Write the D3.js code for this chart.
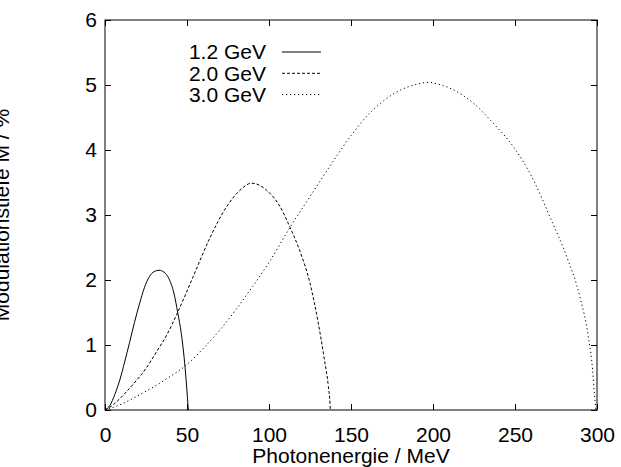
<!DOCTYPE html>
<html>
<head>
<meta charset="utf-8">
<script src="https://cdn.jsdelivr.net/npm/d3@7"></script>
<style>
  body { margin: 0; background: #fff; }
  text { font-family: "Liberation Sans", Arial, Helvetica, sans-serif; }
</style>
</head>
<body>
<div id="chart"></div>
<script>
// Data: [photon energy (MeV), modulation depth (%)]
const gev12 = [
  [0, 0], [3, 0.07], [6, 0.24], [9, 0.46], [12, 0.74], [15, 1.04], [18, 1.35],
  [21, 1.63], [24, 1.88], [27, 2.05], [30, 2.13], [33, 2.15], [36, 2.12],
  [39, 2.02], [42, 1.80], [44.4, 1.49], [46.5, 1.18], [48.2, 0.82],
  [49.5, 0.45], [50.3, 0.18], [50.8, 0]
];
const gev20 = [
  [0, 0], [5, 0.08], [10, 0.2], [17.3, 0.4], [25, 0.64], [31.5, 0.9], [38, 1.17],
  [44.1, 1.49], [53.9, 2.06], [64, 2.65], [74.2, 3.13], [82.3, 3.38],
  [89.4, 3.49], [98.6, 3.38], [106.7, 3.13], [112.8, 2.81], [118.9, 2.44],
  [125, 1.95], [130.1, 1.33], [133.5, 0.82], [136.2, 0.36], [137.2, 0.1], [137.4, 0]
];
const gev30 = [
  [0, 0], [10, 0.09], [20, 0.22], [30, 0.36], [40, 0.52], [50, 0.70], [60, 0.95],
  [70, 1.23], [80, 1.55], [90, 1.90], [100, 2.27], [112.8, 2.81], [127, 3.36],
  [140, 3.86], [150, 4.22], [160, 4.53], [170, 4.76], [180, 4.92], [190, 5.01],
  [197, 5.04], [205, 5.0], [210.4, 4.95], [224.6, 4.72], [236.8, 4.41],
  [249, 4.05], [261.2, 3.54], [271.3, 2.97], [281.5, 2.36], [289.6, 1.74],
  [294.7, 1.13], [297.3, 0.62], [298.4, 0.25], [299.3, 0]
];
const seriesNames = ["1.2 GeV", "2.0 GeV", "3.0 GeV"];
const xTicks = [0, 50, 100, 150, 200, 250, 300];
const yTicks = [0, 1, 2, 3, 4, 5, 6];

const width = 621, height = 467;
const margin = { top: 20, right: 24, bottom: 57, left: 105 };

const svg = d3.select("#chart")
  .append("svg")
  .attr("width", width)
  .attr("height", height);

const x = d3.scaleLinear()
  .domain([0, 300])
  .range([margin.left, width - margin.right]);
const y = d3.scaleLinear()
  .domain([0, 6])
  .range([height - margin.bottom, margin.top]);

const fontSize = "21px";

// Axes with inward ticks, mirrored on top and right
const axisB = svg.append("g")
  .attr("transform", `translate(0,${y(0)})`)
  .call(d3.axisBottom(x).tickValues(xTicks).tickSize(-6).tickPadding(17)
    .tickFormat(d3.format("d")));
const axisL = svg.append("g")
  .attr("transform", `translate(${x(0)},0)`)
  .call(d3.axisLeft(y).tickValues(yTicks).tickSize(-6).tickPadding(8)
    .tickFormat(d3.format("d")));
const axisT = svg.append("g")
  .attr("transform", `translate(0,${y(6)})`)
  .call(d3.axisTop(x).tickValues(xTicks).tickSize(-6).tickFormat(""));
const axisR = svg.append("g")
  .attr("transform", `translate(${x(300)},0)`)
  .call(d3.axisRight(y).tickValues(yTicks).tickSize(-6).tickFormat(""));

[axisB, axisL, axisT, axisR].forEach(g => {
  g.select(".domain").remove();
  g.selectAll(".tick line").attr("stroke", "#000");
  g.selectAll("text")
    .attr("fill", "#000")
    .style("font-size", fontSize)
    .style("font-family", "'Liberation Sans', Arial, Helvetica, sans-serif");
});

// Frame
svg.append("rect")
  .attr("x", x(0))
  .attr("y", y(6))
  .attr("width", x(300) - x(0))
  .attr("height", y(0) - y(6))
  .attr("fill", "none")
  .attr("stroke", "#000")
  .attr("stroke-width", 1);

// Axis titles
svg.append("text")
  .attr("x", (x(0) + x(300)) / 2)
  .attr("y", 463)
  .attr("text-anchor", "middle")
  .style("font-size", fontSize)
  .text("Photonenergie / MeV");

svg.append("text")
  .attr("transform", `translate(9,${(y(0) + y(6)) / 2}) rotate(-90)`)
  .attr("text-anchor", "middle")
  .style("font-size", fontSize)
  .text("Modulationstiefe M / %");

// Curves
const line = d3.line()
  .x(d => x(d[0]))
  .y(d => y(d[1]))
  .curve(d3.curveMonotoneX);

const styles = [null, "3,2", "1.2,2.8"];
const allSeries = [gev12, gev20, gev30];

allSeries.forEach((s, i) => {
  svg.append("path")
    .datum(s)
    .attr("d", line)
    .attr("fill", "none")
    .attr("stroke", "#000")
    .attr("stroke-width", 1)
    .attr("stroke-dasharray", styles[i]);
});

// Legend
const legend = svg.append("g");
seriesNames.forEach((name, i) => {
  const rowY = 52 + i * 21.3;
  legend.append("text")
    .attr("x", 266)
    .attr("y", rowY + 7.3)
    .attr("text-anchor", "end")
    .style("font-size", fontSize)
    .text(name);
  legend.append("line")
    .attr("x1", 282)
    .attr("x2", 321)
    .attr("y1", rowY)
    .attr("y2", rowY)
    .attr("stroke", "#000")
    .attr("stroke-width", 1)
    .attr("stroke-dasharray", styles[i]);
});
</script>
</body>
</html>
